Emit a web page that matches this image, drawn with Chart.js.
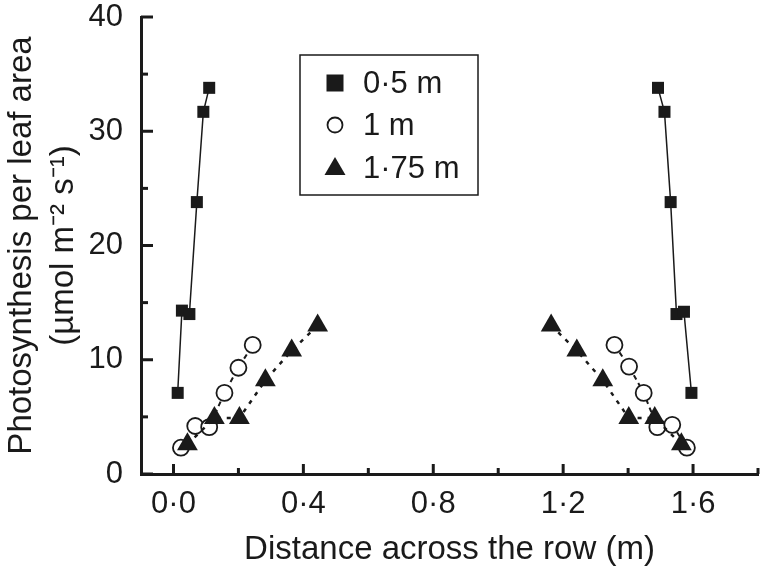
<!DOCTYPE html>
<html>
<head>
<meta charset="utf-8">
<script src="https://cdn.jsdelivr.net/npm/chart.js@4.4.1/dist/chart.umd.min.js"></script>
<style>
  html, body { margin: 0; padding: 0; background: #fff; }
</style>
</head>
<body>
<canvas id="photo-chart" width="760" height="571"></canvas>
<script>
/*////////////////////////////////
///            Data            ///
////////////////////////////////*/

// distance across the row (m) and photosynthesis
const sqLeftX  = [0.013, 0.026, 0.049, 0.072, 0.092, 0.110];
const sqLeftY  = [7.1, 14.3, 14.0, 23.8, 31.7, 33.8];
const sqRightX = [1.492, 1.512, 1.531, 1.549, 1.572, 1.595];
const sqRightY = [33.8, 31.7, 23.8, 14.0, 14.2, 7.1];

const ciLeftX  = [0.023, 0.067, 0.110, 0.157, 0.200, 0.244];
const ciLeftY  = [2.3, 4.2, 4.1, 7.1, 9.3, 11.3];
const ciRightX = [1.358, 1.403, 1.448, 1.490, 1.536, 1.581];
const ciRightY = [11.3, 9.4, 7.1, 4.1, 4.3, 2.3];

const trLeftX  = [0.043, 0.126, 0.203, 0.283, 0.364, 0.444];
const trLeftY  = [2.6, 4.9, 4.9, 8.2, 10.8, 13.0];
const trRightX = [1.163, 1.242, 1.322, 1.402, 1.482, 1.564];
const trRightY = [13.0, 10.8, 8.2, 4.9, 4.9, 2.6];

const seriesNames = ['0·5 m', '1 m', '1·75 m'];

const xMajor = [0, 0.4, 0.8, 1.2, 1.6];
const xMinor = [0.2, 0.6, 1.0, 1.4, 1.8];
const yMajor = [0, 10, 20, 30, 40];
const yMinor = [5, 15, 25, 35];

const ink = '#1a1a1a';
const fontFamily = "'Liberation Sans', Arial, Helvetica, sans-serif";

function pairs(xs, ys) {
  return xs.map((v, i) => ({x: v, y: ys[i]}));
}

/*////////////////////////////////
///          Datasets          ///
////////////////////////////////*/

const squareStyle = {
  showLine: true, borderColor: ink, borderWidth: 1.5,
  pointStyle: 'rect', pointRadius: 8.5, pointBackgroundColor: ink,
  pointBorderWidth: 0, order: 3
};
const circleStyle = {
  showLine: true, borderColor: ink, borderWidth: 2, borderDash: [5, 4],
  pointStyle: 'circle', pointRadius: 8, pointBackgroundColor: '#fff',
  pointBorderColor: ink, pointBorderWidth: 1.8, order: 2
};
const triangleStyle = {
  showLine: true, borderColor: ink, borderWidth: 2.5, borderDash: [4, 6],
  pointStyle: 'triangle', pointRadius: 12, pointBackgroundColor: ink,
  pointBorderWidth: 0, order: 1
};

const datasets = [
  Object.assign({label: seriesNames[0], data: pairs(sqLeftX, sqLeftY)}, squareStyle),
  Object.assign({label: seriesNames[0], data: pairs(sqRightX, sqRightY)}, squareStyle),
  Object.assign({label: seriesNames[1], data: pairs(ciLeftX, ciLeftY)}, circleStyle),
  Object.assign({label: seriesNames[1], data: pairs(ciRightX, ciRightY)}, circleStyle),
  Object.assign({label: seriesNames[2], data: pairs(trLeftX, trLeftY)}, triangleStyle),
  Object.assign({label: seriesNames[2], data: pairs(trRightX, trRightY)}, triangleStyle)
];

/*////////////////////////////////
///          Plugins           ///
////////////////////////////////*/

// tick marks point into the plot, long on labelled ticks
const inwardTicks = {
  id: 'inwardTicks',
  afterDraw(chart) {
    const {ctx, scales: {x, y}} = chart;
    ctx.save();
    ctx.strokeStyle = ink;
    ctx.lineWidth = 3;
    const mark = (x1, y1, x2, y2) => {
      ctx.beginPath(); ctx.moveTo(x1, y1); ctx.lineTo(x2, y2); ctx.stroke();
    };
    xMajor.forEach(v => { const p = x.getPixelForValue(v); mark(p, x.top, p, x.top - 10); });
    xMinor.forEach(v => { const p = x.getPixelForValue(v); mark(p, x.top, p, x.top - 6); });
    yMajor.forEach(v => { const p = y.getPixelForValue(v); mark(y.right, p, y.right + 12, p); });
    yMinor.forEach(v => { const p = y.getPixelForValue(v); mark(y.right, p, y.right + 7, p); });
    ctx.restore();
  }
};

// boxed legend inside the plot
const boxLegend = {
  id: 'boxLegend',
  afterDraw(chart) {
    const ctx = chart.ctx;
    const bx = 300, by = 55, bw = 178, bh = 140;
    ctx.save();
    ctx.fillStyle = '#fff';
    ctx.fillRect(bx, by, bw, bh);
    ctx.strokeStyle = ink;
    ctx.lineWidth = 1.5;
    ctx.strokeRect(bx, by, bw, bh);

    const mx = 335, rows = [83, 125, 168];
    ctx.fillStyle = ink;
    ctx.fillRect(mx - 8.5, rows[0] - 8.5, 17, 17);

    ctx.beginPath();
    ctx.arc(mx, rows[1], 7.5, 0, Math.PI * 2);
    ctx.fillStyle = '#fff'; ctx.fill();
    ctx.lineWidth = 1.8; ctx.stroke();

    ctx.beginPath();
    ctx.moveTo(mx, rows[2] - 11);
    ctx.lineTo(mx + 10.5, rows[2] + 7);
    ctx.lineTo(mx - 10.5, rows[2] + 7);
    ctx.closePath();
    ctx.fillStyle = ink; ctx.fill();

    ctx.font = '31px ' + fontFamily;
    ctx.textBaseline = 'middle';
    ctx.textAlign = 'left';
    seriesNames.forEach((name, i) => ctx.fillText(name, 363, rows[i] + 1));
    ctx.restore();
  }
};

/*////////////////////////////////
///           Chart            ///
////////////////////////////////*/

Chart.defaults.font.family = fontFamily;
Chart.defaults.color = ink;

const photo = document.getElementById('photo-chart').getContext('2d');
const photoChart = new Chart(photo, {
  type: 'scatter',
  data: { datasets: datasets },
  plugins: [inwardTicks, boxLegend],
  options: {
    responsive: false,
    animation: false,
    layout: {
      autoPadding: false,
      padding: { top: 17, right: 2, left: 0, bottom: 0 }
    },
    plugins: {
      legend: { display: false },
      tooltip: { enabled: false }
    },
    scales: {
      x: {
        type: 'linear',
        min: -0.1,
        max: 1.8,
        afterFit: (scale) => {
          scale.height = 97;
          scale.paddingLeft = 0;
          scale.paddingRight = 0;
        },
        afterBuildTicks: (scale) => { scale.ticks = xMajor.map(v => ({value: v})); },
        grid: { drawOnChartArea: false, drawTicks: false },
        border: { color: ink, width: 3 },
        ticks: {
          padding: 12,
          font: { size: 31 },
          callback: (v) => v.toFixed(1).replace('.', '·')
        },
        title: {
          display: true,
          text: 'Distance across the row (m)',
          font: { size: 33, lineHeight: 1.3 },
          padding: { top: 0, bottom: 0 }
        }
      },
      y: {
        type: 'linear',
        min: 0,
        max: 40,
        afterFit: (scale) => {
          scale.width = 141;
          scale.paddingTop = 0;
          scale.paddingBottom = 0;
        },
        afterBuildTicks: (scale) => { scale.ticks = yMajor.map(v => ({value: v})); },
        grid: { drawOnChartArea: false, drawTicks: false },
        border: { color: ink, width: 3 },
        ticks: {
          padding: 18,
          font: { size: 31 }
        },
        title: {
          display: true,
          text: ['Photosynthesis per leaf area', '(µmol m⁻² s⁻¹)'],
          font: { size: 33, lineHeight: 1.3 },
          padding: { top: 0, bottom: 0 }
        }
      }
    }
  }
});
</script>
</body>
</html>
